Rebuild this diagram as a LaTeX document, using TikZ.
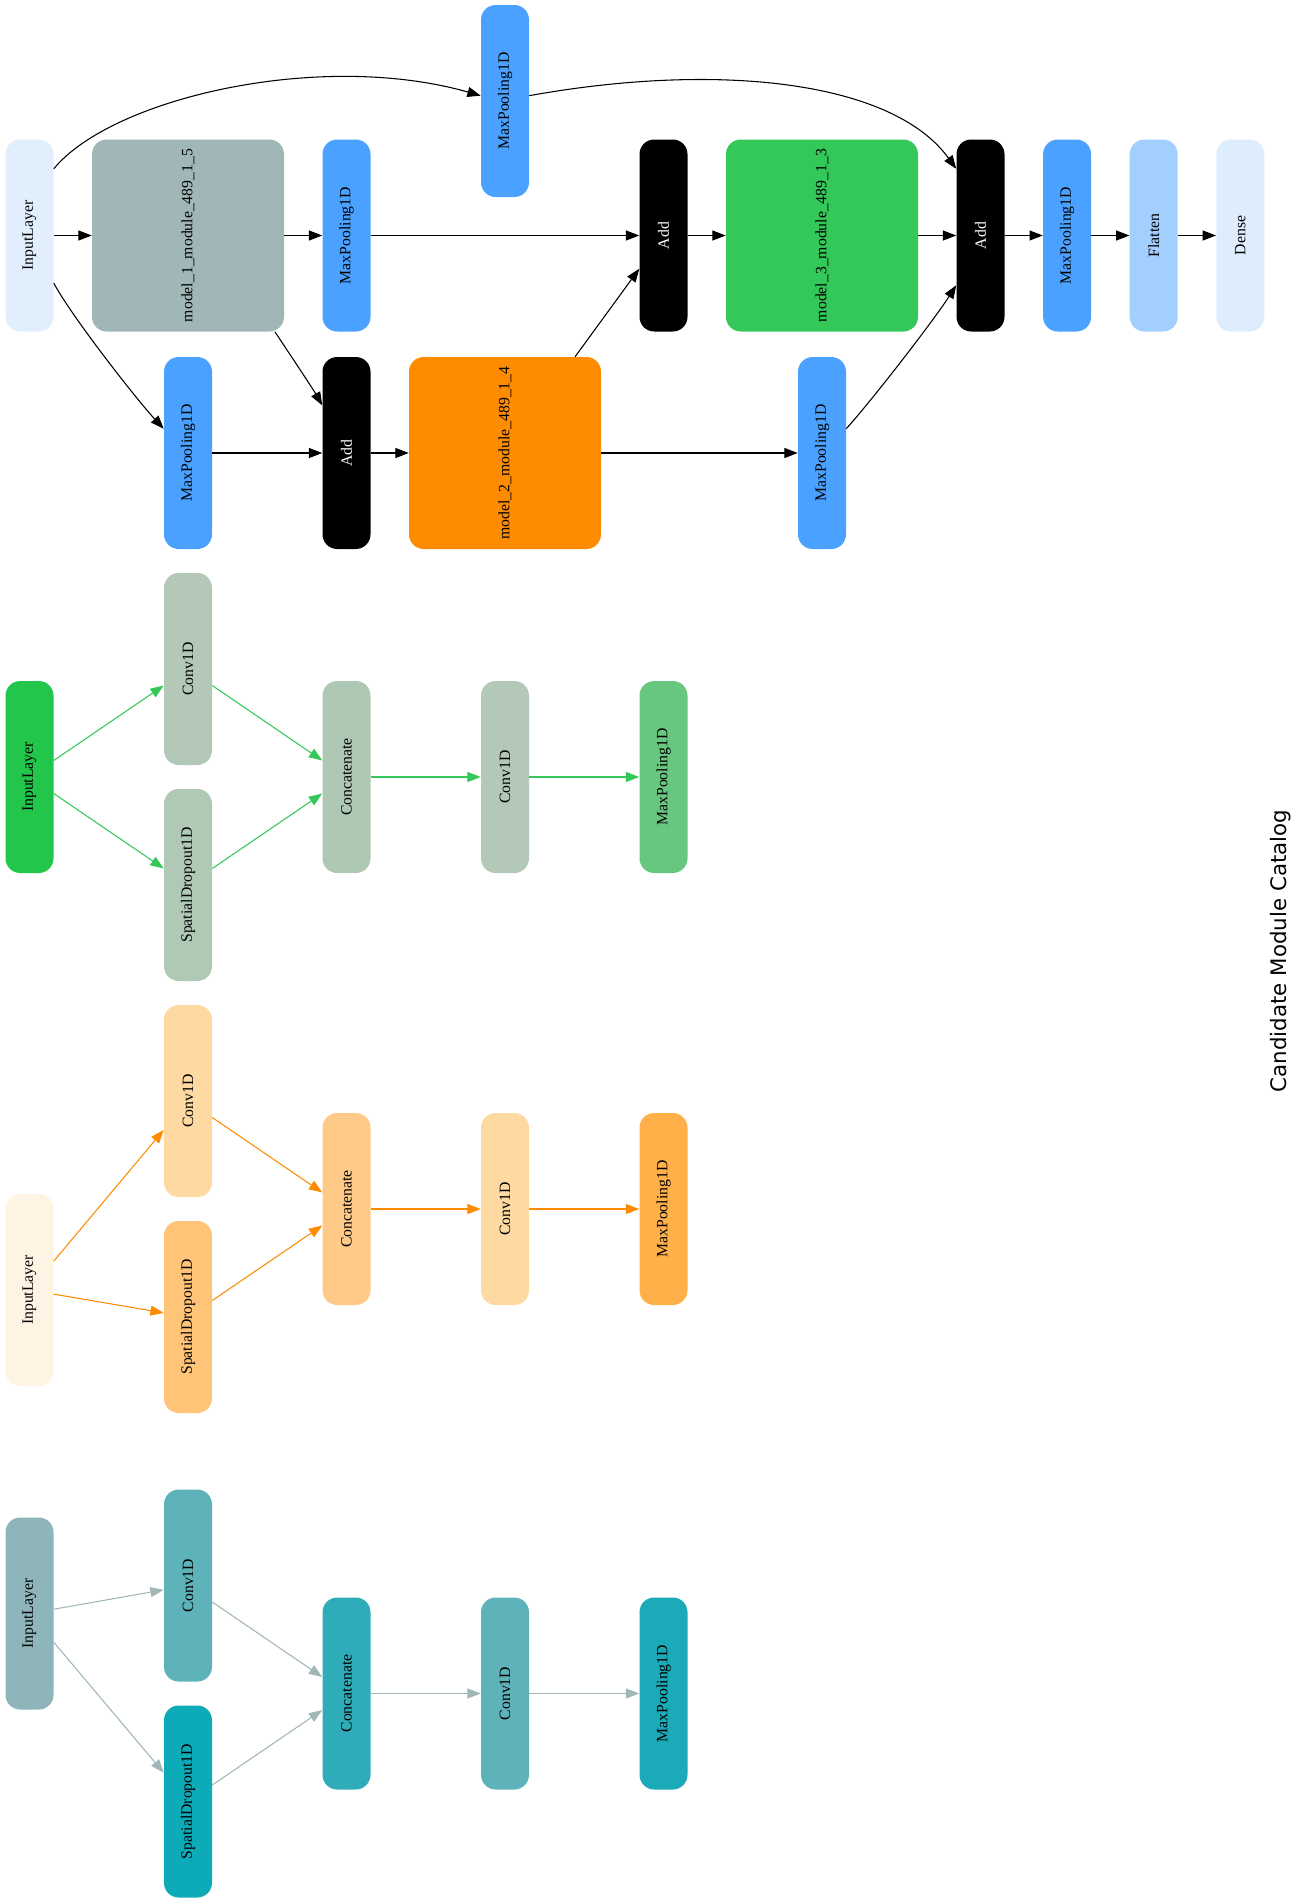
\documentclass[tikz,border=0pt]{standalone}
\usepackage{fontspec}
\setmainfont{Liberation Serif}
\newfontfamily\titlefont{DejaVu Sans}
\usepackage{graphicx}
\usetikzlibrary{arrows.meta}

% layer colours
\definecolor{inBlue}{HTML}{E1EFFD}
\definecolor{modGrey}{HTML}{A0B6B7}
\definecolor{poolBlue}{HTML}{4AA1FF}
\definecolor{modOrange}{HTML}{FF8C00}
\definecolor{modGreen}{HTML}{34C759}
\definecolor{flatBlue}{HTML}{A3CFFF}
\definecolor{denseBlue}{HTML}{DEEDFE}
% green module
\definecolor{gIn}{HTML}{22C64A}
\definecolor{gConv}{HTML}{B3C8B7}
\definecolor{gDrop}{HTML}{B0C9B5}
\definecolor{gCat}{HTML}{AEC8B3}
\definecolor{gPool}{HTML}{68C77F}
\definecolor{gEdge}{HTML}{34C759}
% orange module
\definecolor{oIn}{HTML}{FFF3E4}
\definecolor{oConv}{HTML}{FFD9A2}
\definecolor{oDrop}{HTML}{FFC477}
\definecolor{oCat}{HTML}{FFCA88}
\definecolor{oPool}{HTML}{FFB048}
\definecolor{oEdge}{HTML}{FF8C00}
% teal module
\definecolor{tIn}{HTML}{8EB5B9}
\definecolor{tConv}{HTML}{5EB2B9}
\definecolor{tDrop}{HTML}{0DABB7}
\definecolor{tCat}{HTML}{2FACB9}
\definecolor{tPool}{HTML}{1AAAB8}
\definecolor{tEdge}{HTML}{A0B6B7}

\newcommand\vlabel[1]{\rotatebox{90}{#1}}

\tikzset{
  layer/.style={rounded corners=11pt, minimum width=36pt, minimum height=144pt,
    inner sep=0pt, text=black, font=\fontsize{11.8}{13}\selectfont},
  widelayer/.style={layer, minimum width=144pt},
  link/.style={-{Triangle[length=10pt,width=7.5pt]}, line width=0.8pt},
}

\begin{document}
\begin{tikzpicture}[x=0.75pt, y=-0.75pt]
\useasboundingbox (0,0) rectangle (1305,1904);

% ---------------- full model ----------------
\node[layer, fill=inBlue]        (inA)  at (29.5,235.5)  {\vlabel{InputLayer}};
\node[widelayer, fill=modGrey]   (m1)   at (188,235.5)   {\vlabel{model\_1\_module\_489\_1\_5}};
\node[layer, fill=poolBlue]      (mpM)  at (346.5,235.5) {\vlabel{MaxPooling1D}};
\node[layer, fill=poolBlue]      (mpT)  at (505,101)     {\vlabel{MaxPooling1D}};
\node[layer, fill=black, text=white] (add1) at (663.5,235.5) {\vlabel{Add}};
\node[widelayer, fill=modGreen]  (m3)   at (822,235.5)   {\vlabel{model\_3\_module\_489\_1\_3}};
\node[layer, fill=black, text=white] (add2) at (980.5,235.5) {\vlabel{Add}};
\node[layer, fill=poolBlue]      (mpO)  at (1067.1,235.5) {\vlabel{MaxPooling1D}};
\node[layer, fill=flatBlue]      (fl)   at (1153.7,235.5) {\vlabel{Flatten}};
\node[layer, fill=denseBlue]     (dn)   at (1240.3,235.5) {\vlabel{Dense}};
\node[layer, fill=poolBlue]      (mpL)  at (188,453)     {\vlabel{MaxPooling1D}};
\node[layer, fill=black, text=white] (addL) at (346.5,453) {\vlabel{Add}};
\node[widelayer, fill=modOrange] (m2)   at (505,453)     {\vlabel{model\_2\_module\_489\_1\_4}};
\node[layer, fill=poolBlue]      (mpR)  at (822,453)     {\vlabel{MaxPooling1D}};

\draw[link] (inA) -- (m1);
\draw[link] (m1) -- (mpM);
\draw[link] (mpM) -- (add1);
\draw[link] (mpL) -- (addL);
\draw[link] (addL) -- (m2);
\draw[link] (m2) -- (mpR);
\draw[link] (m2) -- (add1);
\draw[link] (add1) -- (m3);
\draw[link] (m3) -- (add2);
\draw[link] (add2) -- (mpO);
\draw[link] (mpO) -- (fl);
\draw[link] (fl) -- (dn);
\draw[link] (inA.70) .. controls (112,98) and (320,50) .. ([yshift=4pt]mpT.west);
\draw[link] (inA.-63) .. controls (72,317) and (137,400) .. (mpL.135);
\draw[link] ([xshift=-7pt]m1.south east) .. controls (287,350) and (313,389) .. (addL.117);
\draw[link] ([yshift=4pt]mpT.east) .. controls (716,62) and (892,80) .. (add2.110);
\draw[link] (mpR.45) .. controls (873,399) and (934,320) .. (add2.244);

% ---------------- green module ----------------
\node[layer, fill=gIn]   (gin)  at (29.5,777)  {\vlabel{InputLayer}};
\node[layer, fill=gConv] (gc1)  at (188,669)   {\vlabel{Conv1D}};
\node[layer, fill=gDrop] (gsd)  at (188,885)   {\vlabel{SpatialDropout1D}};
\node[layer, fill=gCat]  (gcat) at (346.5,777) {\vlabel{Concatenate}};
\node[layer, fill=gConv] (gc2)  at (505,777)   {\vlabel{Conv1D}};
\node[layer, fill=gPool] (gmp)  at (663.5,777) {\vlabel{MaxPooling1D}};
\begin{scope}[link, draw=gEdge, fill=gEdge]
\draw (gin) -- (gc1);
\draw (gin) -- (gsd);
\draw (gc1) -- (gcat);
\draw (gsd) -- (gcat);
\draw (gcat) -- (gc2);
\draw (gc2) -- (gmp);
\end{scope}

% ---------------- orange module ----------------
\node[layer, fill=oIn]   (oin)  at (29.5,1290)  {\vlabel{InputLayer}};
\node[layer, fill=oConv] (oc1)  at (188,1101)   {\vlabel{Conv1D}};
\node[layer, fill=oDrop] (osd)  at (188,1317)   {\vlabel{SpatialDropout1D}};
\node[layer, fill=oCat]  (ocat) at (346.5,1209) {\vlabel{Concatenate}};
\node[layer, fill=oConv] (oc2)  at (505,1209)   {\vlabel{Conv1D}};
\node[layer, fill=oPool] (omp)  at (663.5,1209) {\vlabel{MaxPooling1D}};
\begin{scope}[link, draw=oEdge, fill=oEdge]
\draw (oin) -- (oc1);
\draw (oin) -- (osd);
\draw (oc1) -- (ocat);
\draw (osd) -- (ocat);
\draw (ocat) -- (oc2);
\draw (oc2) -- (omp);
\end{scope}

% ---------------- teal module ----------------
\node[layer, fill=tIn]   (tin)  at (29.5,1613.5)  {\vlabel{InputLayer}};
\node[layer, fill=tConv] (tc1)  at (188,1585.5)   {\vlabel{Conv1D}};
\node[layer, fill=tDrop] (tsd)  at (188,1801.5)   {\vlabel{SpatialDropout1D}};
\node[layer, fill=tCat]  (tcat) at (346.5,1693.5) {\vlabel{Concatenate}};
\node[layer, fill=tConv] (tc2)  at (505,1693.5)   {\vlabel{Conv1D}};
\node[layer, fill=tPool] (tmp)  at (663.5,1693.5) {\vlabel{MaxPooling1D}};
\begin{scope}[link, draw=tEdge, fill=tEdge]
\draw (tin) -- (tc1);
\draw (tin) -- (tsd);
\draw (tc1) -- (tcat);
\draw (tsd) -- (tcat);
\draw (tcat) -- (tc2);
\draw (tc2) -- (tmp);
\end{scope}

% ---------------- caption ----------------
\node[rotate=90, inner sep=0pt, font=\titlefont\fontsize{16}{19}\selectfont] (title) at (1281,951) {Candidate Module Catalog};
\end{tikzpicture}
\end{document}
